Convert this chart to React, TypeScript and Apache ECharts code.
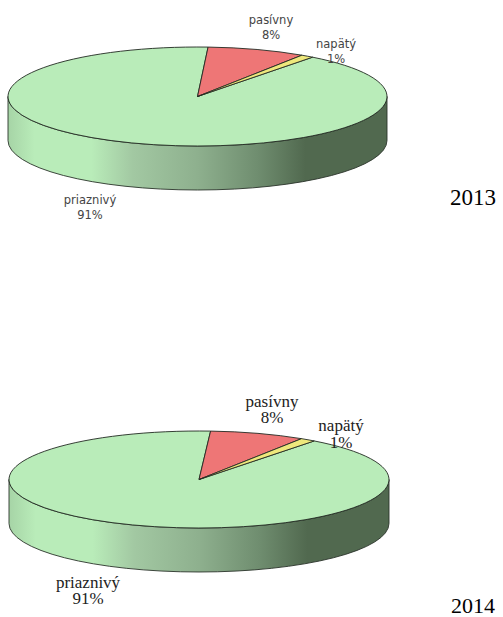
import React, { useEffect, useRef } from "react";
import * as echarts from "echarts";

const categories = ["priaznivý", "pasívny", "napätý"];
const percentLabels = ["91%", "8%", "1%"];
const values2013 = [90.5, 8.4, 1.1];
const values2014 = [90.6, 8.1, 1.3];
const yearLabels = ["2013", "2014"];
const colors = ["#b9ecb9", "#ee7676", "#eee87c"];

const sideGradient = () =>
  new echarts.graphic.LinearGradient(0, 0, 1, 0, [
    { offset: 0, color: "#a6d4a6" },
    { offset: 0.07, color: "#b9ecb9" },
    { offset: 0.22, color: "#b9ecb9" },
    { offset: 0.33, color: "#a2c8a2" },
    { offset: 0.5, color: "#8eb08e" },
    { offset: 0.66, color: "#6f8d6f" },
    { offset: 0.785, color: "#51694f" },
    { offset: 1, color: "#51694f" },
  ]);

const pt = (cx: number, cy: number, rx: number, ry: number, deg: number) => {
  const a = (deg * Math.PI) / 180;
  return [cx + rx * Math.sin(a), cy - ry * Math.cos(a)];
};

function makeSeries(
  values: number[],
  g: { cx: number; cy: number; rx: number; ry: number; depth: number; startDeg: number },
  labelFont: { family: string; size: number; color: string; line: number },
  labelPos: number[][]
) {
  const total = values.reduce((a, b) => a + b, 0);
  // Slices run clockwise: pasívny, napätý, then priaznivý back to the start.
  const order = [1, 2, 0];
  const ranges: Record<number, [number, number]> = {};
  let acc = g.startDeg;
  order.forEach((i) => {
    const sweep = (values[i] / total) * 360;
    ranges[i] = [acc, acc + sweep];
    acc += sweep;
  });
  return {
    type: "custom",
    coordinateSystem: "none",
    silent: true,
    data: values.map((v) => [v]),
    renderItem: (params: any) => {
      const i = params.dataIndex;
      const { cx, cy, rx, ry, depth } = g;
      const [a0, a1] = ranges[i];
      const p0 = pt(cx, cy, rx, ry, a0);
      const p1 = pt(cx, cy, rx, ry, a1);
      const large = a1 - a0 > 180 ? 1 : 0;
      const children: any[] = [];
      if (i === 0) {
        children.push({
          type: "path",
          shape: {
            pathData: `M${cx - rx} ${cy}A${rx} ${ry} 0 0 0 ${cx + rx} ${cy}L${cx + rx} ${cy + depth}A${rx} ${ry} 0 0 1 ${cx - rx} ${cy + depth}Z`,
          },
          style: { fill: sideGradient(), stroke: "#2a332a", lineWidth: 0.9 },
        });
      }
      children.push({
        type: "path",
        shape: {
          pathData: `M${cx} ${cy}L${p0[0]} ${p0[1]}A${rx} ${ry} 0 ${large} 1 ${p1[0]} ${p1[1]}Z`,
        },
        style: { fill: colors[i], stroke: "#222a22", lineWidth: 0.9 },
      });
      children.push({
        type: "text",
        z2: 10,
        x: labelPos[i][0],
        y: labelPos[i][1] + labelFont.line / 2,
        style: {
          text: `${categories[i]}\n${percentLabels[i]}`,
          fill: labelFont.color,
          fontFamily: labelFont.family,
          fontSize: labelFont.size,
          lineHeight: labelFont.line,
          align: "center",
          verticalAlign: "middle",
        },
      });
      return { type: "group", children };
    },
  };
}

export default function App() {
  const ref = useRef<HTMLDivElement>(null);
  useEffect(() => {
    const chart = echarts.init(ref.current!, undefined, { renderer: "svg" });
    chart.setOption({
      animation: false,
      backgroundColor: "#ffffff",
      series: [
        makeSeries(
          values2013,
          { cx: 197.5, cy: 96.5, rx: 189.5, ry: 49.5, depth: 44, startDeg: 3.2 },
          { family: "'DejaVu Sans', sans-serif", size: 11.5, color: "#444444", line: 15 },
          [[90, 200], [271, 20], [336, 44]]
        ),
        makeSeries(
          values2014,
          { cx: 199, cy: 479.5, rx: 190, ry: 48.5, depth: 44, startDeg: 3.5 },
          { family: "'Liberation Serif', serif", size: 17, color: "#222222", line: 16.5 },
          [[88, 582], [272, 401], [341, 425.5]]
        ),
      ],
      graphic: yearLabels.map((t, i) => ({
        type: "text",
        x: 473,
        y: i === 0 ? 197 : 605.8,
        style: {
          text: t,
          fill: "#000000",
          fontFamily: "'Liberation Serif', serif",
          fontSize: i === 0 ? 23 : 22,
          lineHeight: 18,
          align: "center",
          verticalAlign: "middle",
        },
      })),
    });
    return () => chart.dispose();
  }, []);
  return (
    <div
      ref={ref}
      style={{ position: "absolute", left: 0, top: 0, width: 503, height: 617 }}
    />
  );
}
